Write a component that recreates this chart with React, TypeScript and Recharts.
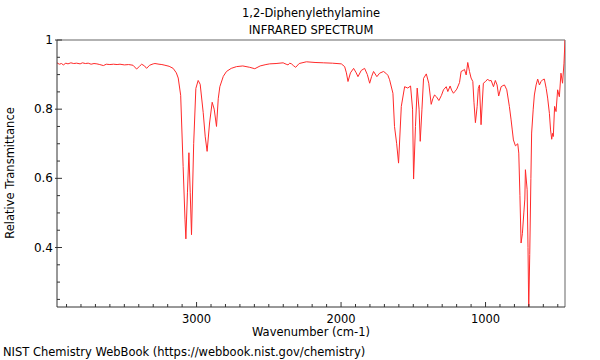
import React from 'react';
import { LineChart, Line, XAxis, YAxis, ReferenceLine } from 'recharts';

// spectrum, left (high wavenumber) to right
const wavenumbers = [
  3966, 3950, 3935, 3922, 3905, 3890, 3870, 3850, 3830, 3806, 3790, 3770, 3750, 3730, 3710, 3690,
  3670, 3645, 3625, 3600, 3575, 3550, 3530, 3500, 3470, 3440, 3415, 3395, 3380, 3360, 3346, 3325,
  3300, 3288, 3260, 3240, 3219, 3190, 3162, 3140, 3127, 3110, 3093, 3080, 3074, 3063, 3053, 3044,
  3035, 3020, 3005, 2989, 2975, 2954, 2940, 2927, 2910, 2892, 2878, 2862, 2850, 2839, 2815, 2793,
  2760, 2724, 2680, 2632, 2597, 2560, 2520, 2494, 2450, 2401, 2380, 2367, 2355, 2343, 2330, 2314,
  2290, 2240, 2180, 2120, 2060, 1998, 1975, 1963, 1952, 1935, 1913, 1895, 1883, 1860, 1837, 1818,
  1802, 1788, 1775, 1752, 1733, 1706, 1690, 1676, 1664, 1641, 1630, 1615, 1602, 1583, 1560, 1538,
  1519, 1505, 1498, 1485, 1473, 1460, 1452, 1440, 1429, 1410, 1393, 1376, 1365, 1353, 1340, 1323,
  1305, 1291, 1272, 1261, 1245, 1235, 1222, 1210, 1199, 1180, 1169, 1155, 1146, 1134, 1123, 1111,
  1100, 1088, 1080, 1070, 1058, 1050, 1042, 1031, 1015, 1000, 985, 975, 961, 945, 932, 920,
  909, 892, 880, 869, 853, 835, 823, 815, 807, 793, 777, 770, 762, 754, 745, 735,
  728, 724, 712, 706, 701, 694, 686, 681, 670, 662, 650, 639, 627, 616, 605, 593,
  580, 570, 558, 550, 542, 536, 531, 522, 512, 501, 489, 478, 467, 457, 450,
];

const transmittance = [
  0.934, 0.930, 0.932, 0.928, 0.933, 0.931, 0.934, 0.932, 0.933, 0.931, 0.934, 0.932, 0.933, 0.930, 0.932, 0.931,
  0.929, 0.926, 0.930, 0.929, 0.930, 0.929, 0.930, 0.928, 0.929, 0.927, 0.916, 0.924, 0.930, 0.925, 0.918, 0.927,
  0.931, 0.932, 0.930, 0.929, 0.927, 0.924, 0.918, 0.905, 0.890, 0.840, 0.634, 0.480, 0.425, 0.560, 0.674, 0.560,
  0.437, 0.700, 0.860, 0.883, 0.872, 0.790, 0.720, 0.678, 0.760, 0.820, 0.800, 0.750, 0.830, 0.865, 0.895, 0.909,
  0.918, 0.923, 0.925, 0.921, 0.917, 0.925, 0.929, 0.931, 0.932, 0.934, 0.930, 0.928, 0.933, 0.931, 0.926, 0.921,
  0.932, 0.937, 0.935, 0.934, 0.933, 0.931, 0.923, 0.905, 0.880, 0.905, 0.918, 0.905, 0.894, 0.912, 0.918, 0.900,
  0.875, 0.895, 0.909, 0.894, 0.904, 0.909, 0.904, 0.898, 0.885, 0.846, 0.750, 0.700, 0.644, 0.808, 0.865, 0.861,
  0.867, 0.800, 0.598, 0.750, 0.861, 0.800, 0.707, 0.800, 0.889, 0.902, 0.875, 0.814, 0.830, 0.841, 0.836, 0.825,
  0.840, 0.856, 0.865, 0.851, 0.867, 0.855, 0.846, 0.852, 0.858, 0.877, 0.909, 0.912, 0.915, 0.899, 0.935, 0.909,
  0.890, 0.880, 0.820, 0.761, 0.808, 0.860, 0.870, 0.755, 0.875, 0.880, 0.887, 0.882, 0.883, 0.865, 0.883, 0.870,
  0.838, 0.865, 0.868, 0.870, 0.856, 0.808, 0.769, 0.740, 0.711, 0.694, 0.700, 0.673, 0.550, 0.413, 0.440, 0.500,
  0.540, 0.625, 0.567, 0.400, 0.220, 0.380, 0.600, 0.731, 0.800, 0.841, 0.870, 0.887, 0.870, 0.880, 0.885, 0.887,
  0.860, 0.832, 0.788, 0.740, 0.713, 0.730, 0.721, 0.808, 0.793, 0.856, 0.836, 0.904, 0.875, 0.933, 1.0,
];

const xTicks = [
  500, 600, 700, 800, 900, 1000, 1100, 1200, 1300, 1400, 1500, 1600, 1700, 1800, 1900, 2000,
  2100, 2200, 2300, 2400, 2500, 2600, 2700, 2800, 2900, 3000, 3100, 3200, 3300, 3400, 3500,
  3600, 3700, 3800, 3900,
];
const yTicks = [0.25, 0.3, 0.35, 0.4, 0.45, 0.5, 0.55, 0.6, 0.65, 0.7, 0.75, 0.8, 0.85, 0.9, 0.95, 1];
const yLabels: Record<string, string> = { '0.4': '0.4', '0.6': '0.6', '0.8': '0.8', '1': '1' };

const data = wavenumbers.map((w, i) => ({ w, t: transmittance[i] }));

const FONT = '"DejaVu Sans", sans-serif';
const FS = 11.5;
const AXIS = '#333';

const XTick = (props: any) => {
  const { x, y, payload } = props;
  const major = payload.value % 1000 === 0;
  return (
    <g>
      <line x1={x} x2={x} y1={y} y2={y - (major ? 5 : 3)} stroke={AXIS} />
      {major && (
        <text x={x} y={y + 12} textAnchor="middle" dominantBaseline="central" fontSize={FS} fontFamily={FONT} fill="#000">
          {payload.value}
        </text>
      )}
    </g>
  );
};

const YTick = (props: any) => {
  const { x, y, payload } = props;
  const label = yLabels[String(payload.value)];
  return (
    <g>
      <line x1={label ? x - 2 : x} x2={x + (label ? 5 : 3)} y1={y} y2={y} stroke={AXIS} />
      {label && (
        <text x={x - 4} y={y} textAnchor="end" dominantBaseline="central" fontSize={FS + 0.5} fontFamily={FONT} fill="#000">
          {label}
        </text>
      )}
    </g>
  );
};

export default function App() {
  return (
    <div style={{ position: 'fixed', left: 0, top: 0, width: 600, height: 360, background: '#fff' }}>
      <LineChart width={600} height={360} data={data} margin={{ top: 40, right: 35, bottom: 0, left: 0 }}>
        <XAxis
          dataKey="w"
          type="number"
          domain={[450, 3966]}
          reversed
          allowDataOverflow
          ticks={xTicks}
          interval={0}
          height={53}
          tickSize={0}
          tickMargin={0}
          tickLine={false}
          axisLine={{ stroke: AXIS }}
          tick={<XTick />}
        />
        <YAxis
          type="number"
          domain={[0.228, 1]}
          allowDataOverflow
          ticks={yTicks}
          interval={0}
          width={57}
          tickSize={0}
          tickMargin={0}
          tickLine={false}
          axisLine={{ stroke: AXIS }}
          tick={<YTick />}
        />
        <ReferenceLine y={1} stroke="#999" strokeWidth={1.5} />
        <ReferenceLine x={450} stroke="#999" strokeWidth={1.5} />
        <Line dataKey="t" type="linear" stroke="#ff2a2a" strokeWidth={1} dot={false} isAnimationActive={false} />
      </LineChart>
      <svg width={600} height={360} style={{ position: 'absolute', left: 0, top: 0, pointerEvents: 'none' }} fontFamily={FONT} fontSize={FS}>
        <text x={311} y={13} textAnchor="middle" dominantBaseline="central">1,2-Diphenylethylamine</text>
        <text x={311} y={30} textAnchor="middle" dominantBaseline="central">INFRARED SPECTRUM</text>
        <text x={311} y={332} textAnchor="middle" dominantBaseline="central">Wavenumber (cm-1)</text>
        <text x={3} y={352} dominantBaseline="central">NIST Chemistry WebBook (https://webbook.nist.gov/chemistry)</text>
        <text x={10} y={173} textAnchor="middle" dominantBaseline="central" transform="rotate(-90 10 173)">
          Relative Transmittance
        </text>
      </svg>
    </div>
  );
}
